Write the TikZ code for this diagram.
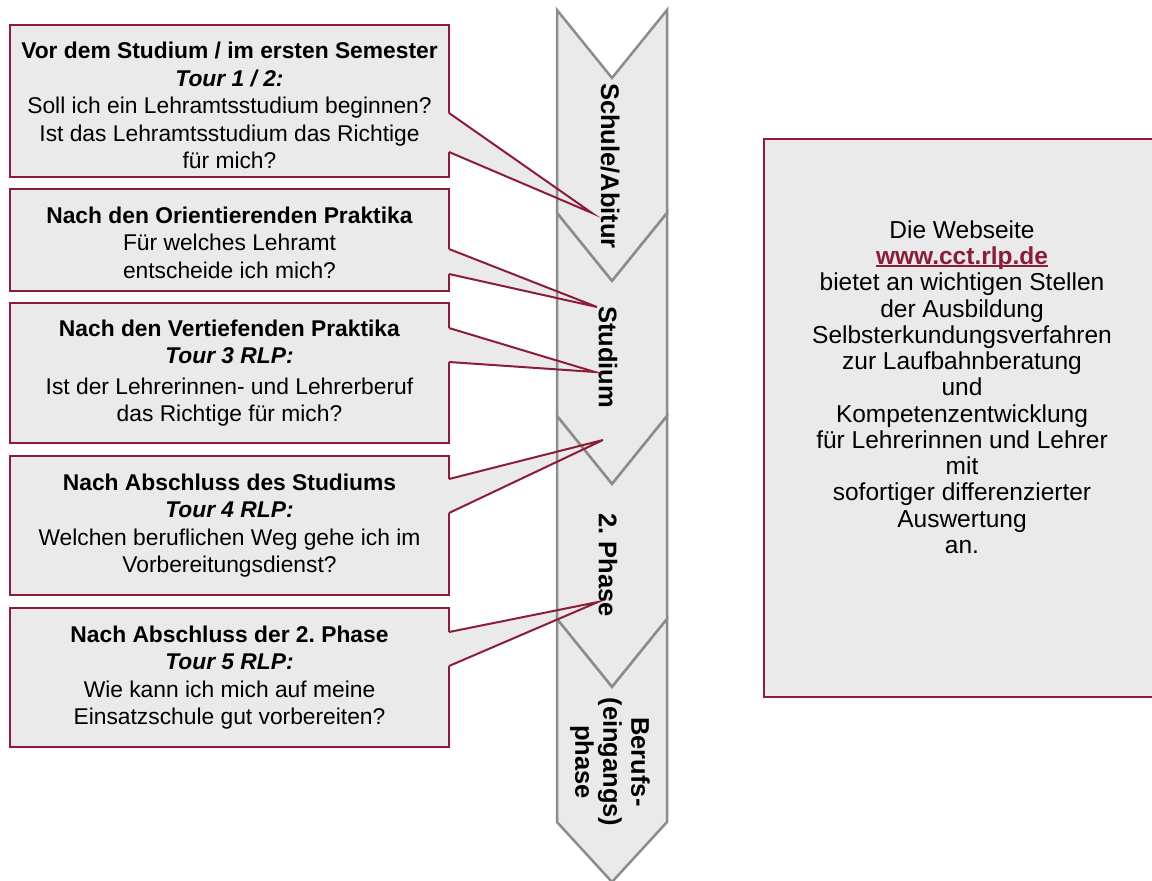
\documentclass[tikz,border=0pt]{standalone}
\usepackage{fontspec}
\setmainfont{Liberation Sans}
\frenchspacing
\definecolor{crimson}{HTML}{8B1D38}
\definecolor{boxgray}{HTML}{EAEAEA}
\definecolor{chevgray}{HTML}{8C8C8C}
\newcommand{\urltext}[1]{\setbox0\hbox{#1}\rlap{\rule[-2.5pt]{\wd0}{1.6pt}}\box0}

\tikzset{
  infobox/.style={draw=crimson, line width=2pt, fill=boxgray, anchor=north west,
    minimum width=439pt, inner sep=0pt, outer sep=0pt, align=center,
    font=\fontsize{22.8}{27.5}\selectfont},
  phase/.style={draw=chevgray, line width=2.5pt, fill=boxgray},
  phaselabel/.style={rotate=-90, align=center, font=\fontsize{25.5}{28}\selectfont\bfseries},
  pointer/.style={draw=crimson, line width=2pt},
}

\begin{document}
\begin{tikzpicture}[x=1pt, y=-1pt]
\useasboundingbox (0,0) rectangle (1152,881);
\clip (0,0) rectangle (1152,881);

% Question boxes
\node[infobox, minimum height=152pt] (tour1) at (10,25) {\rule{0pt}{26pt}\textbf{Vor dem Studium / im ersten Semester}\\
  \textbf{\textit{Tour 1 / 2:}}\\
  Soll ich ein Lehramtsstudium beginnen?\\
  Ist das Lehramtsstudium das Richtige\\
  für mich?};
\node[infobox, minimum height=102pt] (orient) at (10,189) {\rule{0pt}{22pt}\textbf{Nach den Orientierenden Praktika}\\
  Für welches Lehramt\\
  entscheide ich mich?};
\node[infobox, minimum height=140pt] (tour3) at (10,303) {\textbf{Nach den Vertiefenden Praktika}\\
  \textbf{\textit{Tour 3 RLP:}}\\[3pt]
  Ist der Lehrerinnen- und Lehrerberuf\\
  das Richtige für mich?};
\node[infobox, minimum height=139pt] (tour4) at (10,456) {\textbf{Nach Abschluss des Studiums}\\
  \textbf{\textit{Tour 4 RLP:}}\\
  Welchen beruflichen Weg gehe ich im\\
  Vorbereitungsdienst?};
\node[infobox, minimum height=139pt] (tour5) at (10,608) {\textbf{Nach Abschluss der 2. Phase}\\
  \textbf{\textit{Tour 5 RLP:}}\\
  Wie kann ich mich auf meine\\
  Einsatzschule gut vorbereiten?};

% Pointer tips on the phase arrow
\coordinate (t1) at (592,213);
\coordinate (t2) at (597,307);
\coordinate (t3) at (595,372);
\coordinate (t4) at (603,440);
\coordinate (t5) at (598,602);

% Pointer bodies
\foreach \b/\ya/\yb/\t in {tour1/88/127/t1, orient/60/85/t2, tour3/25/59/t3, tour4/23/57/t4, tour5/24/58/t5}
  \fill[boxgray] ([xshift=-1.5pt,yshift=-\ya pt]\b.north east) -- ([yshift=-\ya pt]\b.north east) -- (\t)
    -- ([yshift=-\yb pt]\b.north east) -- ([xshift=-1.5pt,yshift=-\yb pt]\b.north east) -- cycle;

% Phase arrow
\foreach \ytop in {10,213,416}
  \draw[phase] (557,\ytop) -- (612,\ytop+68) -- (667,\ytop) -- (667,\ytop+203) -- (612,\ytop+271) -- (557,\ytop+203) -- cycle;
\draw[phase] (557,619) -- (612,687) -- (667,619) -- (667,822) -- (612,882) -- (557,822) -- cycle;

\node[phaselabel] (schule) at (610,166) {Schule/Abitur};
\node[phaselabel] (studium) at (608,357) {Studium};
\node[phaselabel] (ref) at (608,565) {2. Phase};
\node[phaselabel] (beruf) at (610,762) {Berufs-\\(eingangs)\\phase};

% Pointer outlines
\foreach \b/\ya/\yb/\t in {tour1/88/127/t1, orient/60/85/t2, tour3/25/59/t3, tour4/23/57/t4, tour5/24/58/t5}
  \draw[pointer] ([yshift=-\ya pt]\b.north east) -- (\t) -- ([yshift=-\yb pt]\b.north east);

% Website box
\node[draw=crimson, line width=2.5pt, fill=boxgray, anchor=north west, outer sep=0pt,
  minimum width=392pt, minimum height=558pt] (web) at (764,139) {};
\node[align=center, font=\fontsize{24.5}{26.25}\selectfont] (webtext) at (962,387) {Die Webseite\\
  \textcolor{crimson}{\bfseries\urltext{www.cct.rlp.de}}\\
  bietet an wichtigen Stellen\\
  der Ausbildung\\
  Selbsterkundungsverfahren\\
  zur Laufbahnberatung\\
  und\\
  Kompetenzentwicklung\\
  für Lehrerinnen und Lehrer\\
  mit\\
  sofortiger differenzierter\\
  Auswertung\\
  an.};
\end{tikzpicture}
\end{document}
